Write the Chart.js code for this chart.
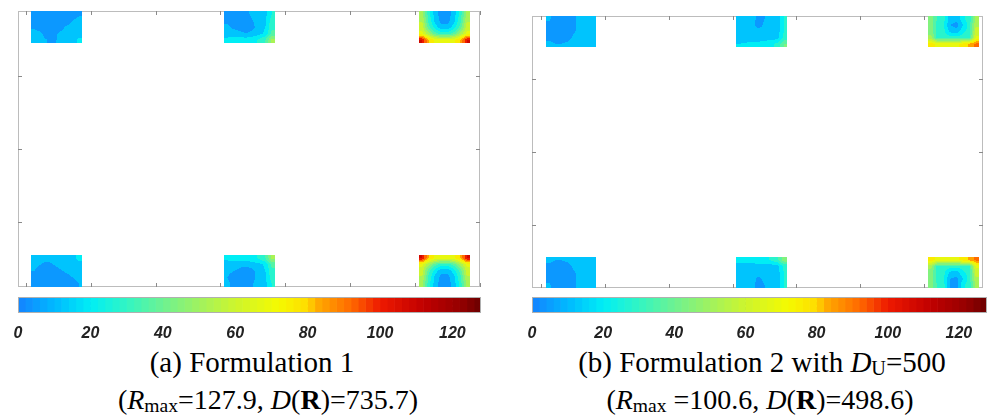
<!DOCTYPE html>
<html>
<head>
<meta charset="utf-8">
<script src="https://cdn.jsdelivr.net/npm/chart.js@4.4.1/dist/chart.umd.min.js"></script>
<style>
  body { margin: 0; background: #fff; width: 988px; height: 417px; overflow: hidden; position: relative; }
  canvas { position: absolute; }
  .cap { position: absolute; width: 600px; text-align: center; color: #000; white-space: nowrap;
         font-family: "Liberation Serif", "Times New Roman", serif; line-height: 1; }
  .cap sub { font-size: 0.7em; vertical-align: -3px; line-height: 0; }
</style>
</head>
<body>
<canvas id="fieldA" width="466" height="280" style="left:16px;top:9px"></canvas>
<canvas id="fieldB" width="455" height="276" style="left:530px;top:14px"></canvas>
<canvas id="cbarA" width="489" height="50" style="left:2px;top:293px"></canvas>
<canvas id="cbarB" width="481" height="50" style="left:516px;top:293px"></canvas>

<div class="cap" style="left:-48px;top:348px;font-size:29px">(a) Formulation 1</div>
<div class="cap" style="left:-32px;top:386px;font-size:28px">(<i>R</i><sub>max</sub>=127.9, <i>D</i>(<b>R</b>)=735.7)</div>
<div class="cap" style="left:462px;top:348px;font-size:29px">(b) Formulation 2 with <i>D</i><sub>U</sub>=500</div>
<div class="cap" style="left:460px;top:386px;font-size:28px">(<i>R</i><sub>max</sub> =100.6, <i>D</i>(<b>R</b>)=498.6)</div>

<script>
// ==================== DATA ====================

// column footprints in plan units: three columns across, two rows
const colSpans = [[0.08, 0.86], [3.06, 3.85], [6.06, 6.85]];
const rowSpans = [[3.44, 3.88], [0.12, 0.56]]; // top row, bottom row

// colour bar
const cbarTicks = [0, 20, 40, 60, 80, 100, 120];
const cbarEdges = [0, 2, 4, 6, 8, 10, 12, 14, 16, 18, 20, 22, 24, 26, 28, 30, 32, 34, 36, 38,
    40, 42, 44, 46, 48, 50, 52, 54, 56, 58, 60, 62, 64, 66, 68, 70, 72, 74, 76, 78,
    80, 82, 84, 86, 88, 90, 92, 94, 96, 98, 100, 102, 104, 106, 108, 110, 112, 114, 116, 118,
    120, 122, 124, 126, 127.9];

// contour levels used for the filled sections
const contourLevels = [0, 8, 16, 24, 32, 40, 48, 56, 64, 72, 80, 88, 96, 104, 112, 120, 128];

// (a) Formulation 1 - values per column section (rows top->bottom, cols left->right)
const f1TopLeft = [
    [4, 3, 3, 3, 3, 4, 5, 7],
    [5, 3, 3, 3, 3, 4, 8, 10],
    [7, 5, 3, 4, 5, 9, 10, 11],
    [10, 9, 5, 6, 9, 10, 11, 12],
    [11, 10, 8, 7, 9, 11, 12, 18]
];
const f1TopMid = [
    [5, 4, 4, 6, 10, 12, 14, 24],
    [6, 4, 4, 4, 8, 12, 15, 28],
    [10, 6, 4, 4, 6, 12, 16, 30],
    [12, 12, 10, 8, 10, 13, 18, 34],
    [18, 20, 20, 20, 22, 25, 32, 50]
];
const f1TopRight = [
    [50, 28, 12, 4, 4, 12, 28, 50],
    [55, 30, 14, 5, 5, 14, 30, 55],
    [60, 35, 20, 10, 10, 20, 35, 60],
    [66, 50, 35, 28, 28, 35, 50, 66],
    [105, 80, 70, 66, 66, 70, 80, 105]
];
const f1BotLeft = [
    [11, 11, 10, 10, 11, 12, 13, 18],
    [10, 8, 6, 8, 10, 11, 12, 13],
    [8, 5, 4, 5, 7, 9, 10, 11],
    [5, 4, 3, 3, 4, 6, 8, 10],
    [4, 3, 3, 3, 3, 4, 6, 8]
];
const f1BotMid = [
    [18, 20, 20, 20, 22, 25, 32, 50],
    [12, 12, 10, 10, 12, 13, 18, 34],
    [10, 8, 6, 4, 6, 12, 16, 30],
    [8, 5, 4, 4, 5, 12, 15, 28],
    [10, 6, 4, 4, 8, 12, 14, 24]
];
const f1BotRight = [
    [105, 80, 70, 66, 66, 70, 80, 105],
    [66, 50, 35, 28, 28, 35, 50, 66],
    [60, 35, 20, 10, 10, 20, 35, 60],
    [55, 30, 14, 5, 5, 14, 30, 55],
    [50, 28, 12, 4, 4, 12, 28, 50]
];

// (b) Formulation 2 with DU=500
const f2TopLeft = [
    [9, 5, 4, 4, 6, 12, 12, 12],
    [6, 4, 4, 4, 6, 12, 12, 12],
    [5, 4, 4, 4, 7, 12, 12, 12],
    [6, 5, 4, 5, 10, 12, 12, 12],
    [10, 8, 8, 10, 12, 12, 12, 12]
];
const f2TopMid = [
    [12, 12, 12, 5, 8, 12, 12, 24],
    [12, 12, 12, 4, 10, 12, 12, 24],
    [12, 12, 12, 12, 12, 12, 12, 24],
    [12, 12, 12, 12, 12, 12, 13, 26],
    [16, 17, 18, 18, 20, 22, 26, 40]
];
const f2TopRight = [
    [45, 30, 26, 12, 10, 22, 28, 50],
    [45, 28, 24, 8, 5, 16, 28, 55],
    [45, 28, 26, 14, 12, 22, 28, 60],
    [50, 28, 28, 28, 28, 28, 30, 65],
    [75, 70, 70, 70, 70, 75, 82, 90]
];
const f2BotLeft = [
    [10, 8, 8, 10, 12, 12, 12, 12],
    [6, 5, 4, 5, 10, 12, 12, 12],
    [5, 4, 4, 4, 7, 12, 12, 12],
    [6, 4, 4, 4, 6, 12, 12, 12],
    [9, 5, 4, 4, 6, 12, 12, 12]
];
const f2BotMid = [
    [20, 20, 20, 22, 22, 25, 30, 45],
    [12, 12, 12, 12, 12, 12, 13, 26],
    [12, 12, 12, 12, 12, 12, 12, 24],
    [12, 12, 12, 6, 10, 12, 12, 24],
    [12, 12, 12, 4, 8, 12, 12, 24]
];
const f2BotRight = [
    [75, 70, 70, 70, 70, 75, 82, 90],
    [50, 28, 28, 28, 28, 28, 30, 65],
    [45, 28, 26, 14, 12, 22, 28, 60],
    [45, 28, 24, 8, 6, 16, 28, 55],
    [45, 30, 26, 6, 5, 22, 28, 50]
];

// ==================== COLOUR MAP ====================
const jetStops = [
    [0, [20, 130, 255]], [10, [0, 185, 255]], [20, [0, 238, 245]], [30, [50, 245, 195]],
    [40, [110, 242, 145]], [50, [160, 242, 95]], [60, [205, 245, 45]], [72, [245, 250, 0]],
    [80, [255, 220, 0]], [82, [255, 175, 0]], [92, [255, 105, 0]], [100, [238, 25, 0]],
    [112, [192, 0, 0]], [122, [150, 0, 0]], [128, [105, 0, 0]]
];

function cmap(v) {
    for (let i = 1; i < jetStops.length; i++) {
        const [v1, c1] = jetStops[i];
        const [v0, c0] = jetStops[i - 1];
        if (v <= v1) {
            const t = Math.max(0, (v - v0) / (v1 - v0));
            return c0.map((c, k) => Math.round(c + (c1[k] - c) * t));
        }
    }
    return jetStops[jetStops.length - 1][1];
}

const bandColors = cbarEdges.slice(0, -1).map((lo, i) => cmap((lo + cbarEdges[i + 1]) / 2));
const levelColors = contourLevels.slice(0, -1).map((lo, i) => cmap((lo + contourLevels[i + 1]) / 2));

function levelColor(v) {
    let b = 0;
    while (b < levelColors.length - 1 && v >= contourLevels[b + 1]) b++;
    return levelColors[b];
}

// ==================== PLUGINS ====================
const framePlugin = {
    id: 'frame',
    beforeDatasetsDraw(chart) {
        const { ctx, chartArea: a, scales: { x, y } } = chart;
        ctx.save();
        ctx.strokeStyle = '#bcbcbc';
        ctx.lineWidth = 1;
        ctx.strokeRect(a.left + 0.5, a.top + 0.5, a.width - 1, a.height - 1);
        ctx.strokeStyle = '#8a8a8a';
        ctx.beginPath();
        for (let v = Math.ceil(x.min); v <= x.max; v++) {
            const px = Math.round(x.getPixelForValue(v)) + 0.5;
            ctx.moveTo(px, a.top); ctx.lineTo(px, a.top + 4);
            ctx.moveTo(px, a.bottom); ctx.lineTo(px, a.bottom - 4);
        }
        for (let v = Math.ceil(y.min); v <= y.max; v++) {
            const py = Math.round(y.getPixelForValue(v)) + 0.5;
            ctx.moveTo(a.left, py); ctx.lineTo(a.left + 4, py);
            ctx.moveTo(a.right, py); ctx.lineTo(a.right - 4, py);
        }
        ctx.stroke();
        ctx.restore();
    }
};

// filled contour of each column section
function paintGrid(chart, grid, xs, ys) {
    const { ctx, chartArea: a, scales: { x, y } } = chart;
    const left = Math.round(x.getPixelForValue(xs[0]));
    const right = Math.round(x.getPixelForValue(xs[1]));
    const top = Math.max(Math.round(y.getPixelForValue(ys[1])), Math.round(a.top));
    const bottom = Math.min(Math.round(y.getPixelForValue(ys[0])), Math.round(a.bottom));
    const w = right - left, h = bottom - top;
    const rows = grid.length, cols = grid[0].length;
    const off = document.createElement('canvas');
    off.width = w; off.height = h;
    const octx = off.getContext('2d');
    const img = octx.createImageData(w, h);
    for (let j = 0; j < h; j++) {
        const gy = Math.min(rows - 1, Math.max(0, (j + 0.5) / h * rows - 0.5));
        const r0 = Math.floor(gy), r1 = Math.min(rows - 1, r0 + 1), fy = gy - r0;
        for (let i = 0; i < w; i++) {
            const gx = Math.min(cols - 1, Math.max(0, (i + 0.5) / w * cols - 0.5));
            const c0 = Math.floor(gx), c1 = Math.min(cols - 1, c0 + 1), fx = gx - c0;
            const v = (grid[r0][c0] * (1 - fx) + grid[r0][c1] * fx) * (1 - fy)
                    + (grid[r1][c0] * (1 - fx) + grid[r1][c1] * fx) * fy;
            const col = levelColor(v);
            const k = (j * w + i) * 4;
            img.data[k] = col[0]; img.data[k + 1] = col[1]; img.data[k + 2] = col[2]; img.data[k + 3] = 255;
        }
    }
    octx.putImageData(img, 0, 0);
    ctx.drawImage(off, left, top);
}

const contourPlugin = {
    id: 'contour',
    afterDatasetsDraw(chart, args, opts) {
        opts.grids.forEach((row, r) => {
            row.forEach((grid, c) => paintGrid(chart, grid, colSpans[c], rowSpans[r]));
        });
    }
};

const cbarFrame = {
    id: 'cbarFrame',
    afterDraw(chart) {
        const { ctx, chartArea: a } = chart;
        ctx.save();
        ctx.strokeStyle = '#b0b0b0';
        ctx.lineWidth = 1;
        ctx.strokeRect(a.left + 0.5, a.top + 0.5, a.width - 1, a.height - 1);
        ctx.restore();
    }
};

// ==================== CHARTS ====================
function fieldChart(id, xRange, yRange, grids) {
    return new Chart(document.getElementById(id), {
        type: 'scatter',
        data: { datasets: [] },
        options: {
            responsive: false,
            animation: false,
            layout: { padding: 2 },
            plugins: { legend: { display: false }, tooltip: { enabled: false }, contour: { grids } },
            scales: {
                x: { display: false, min: xRange[0], max: xRange[1] },
                y: { display: false, min: yRange[0], max: yRange[1] }
            }
        },
        plugins: [framePlugin, contourPlugin]
    });
}

function colorbarChart(id) {
    const datasets = cbarEdges.slice(0, -1).map((lo, i) => ({
        data: [[lo, cbarEdges[i + 1]]],
        backgroundColor: 'rgb(' + bandColors[i].join(',') + ')',
        borderWidth: 0,
        grouped: false,
        barPercentage: 1,
        categoryPercentage: 1
    }));
    return new Chart(document.getElementById(id), {
        type: 'bar',
        data: { labels: [''], datasets },
        options: {
            indexAxis: 'y',
            responsive: false,
            animation: false,
            layout: { padding: { left: 16, right: 10, top: 4, bottom: 0 } },
            plugins: { legend: { display: false }, tooltip: { enabled: false } },
            scales: {
                y: { display: false },
                x: {
                    min: cbarEdges[0],
                    max: cbarEdges[cbarEdges.length - 1],
                    z: 1,
                    afterBuildTicks: s => { s.ticks = cbarTicks.map(v => ({ value: v })); },
                    afterFit: s => { s.height = 30; },
                    border: { display: false, dash: [3, 2] },
                    grid: {
                        drawTicks: false,
                        color: c => (c.tick && c.tick.value > 0 ? '#4a4a4a' : 'rgba(0,0,0,0)')
                    },
                    ticks: {
                        padding: 11,
                        color: '#222',
                        font: { family: 'Liberation Sans', size: 16, weight: 'bold', style: 'italic' }
                    }
                }
            }
        },
        plugins: [cbarFrame]
    });
}

fieldChart('fieldA', [-0.123, 7.006], [0.122, 3.878],
    [[f1TopLeft, f1TopMid, f1TopRight], [f1BotLeft, f1BotMid, f1BotRight]]);
fieldChart('fieldB', [-0.141, 6.92], [0.137, 3.863],
    [[f2TopLeft, f2TopMid, f2TopRight], [f2BotLeft, f2BotMid, f2BotRight]]);
colorbarChart('cbarA');
colorbarChart('cbarB');
</script>
</body>
</html>
